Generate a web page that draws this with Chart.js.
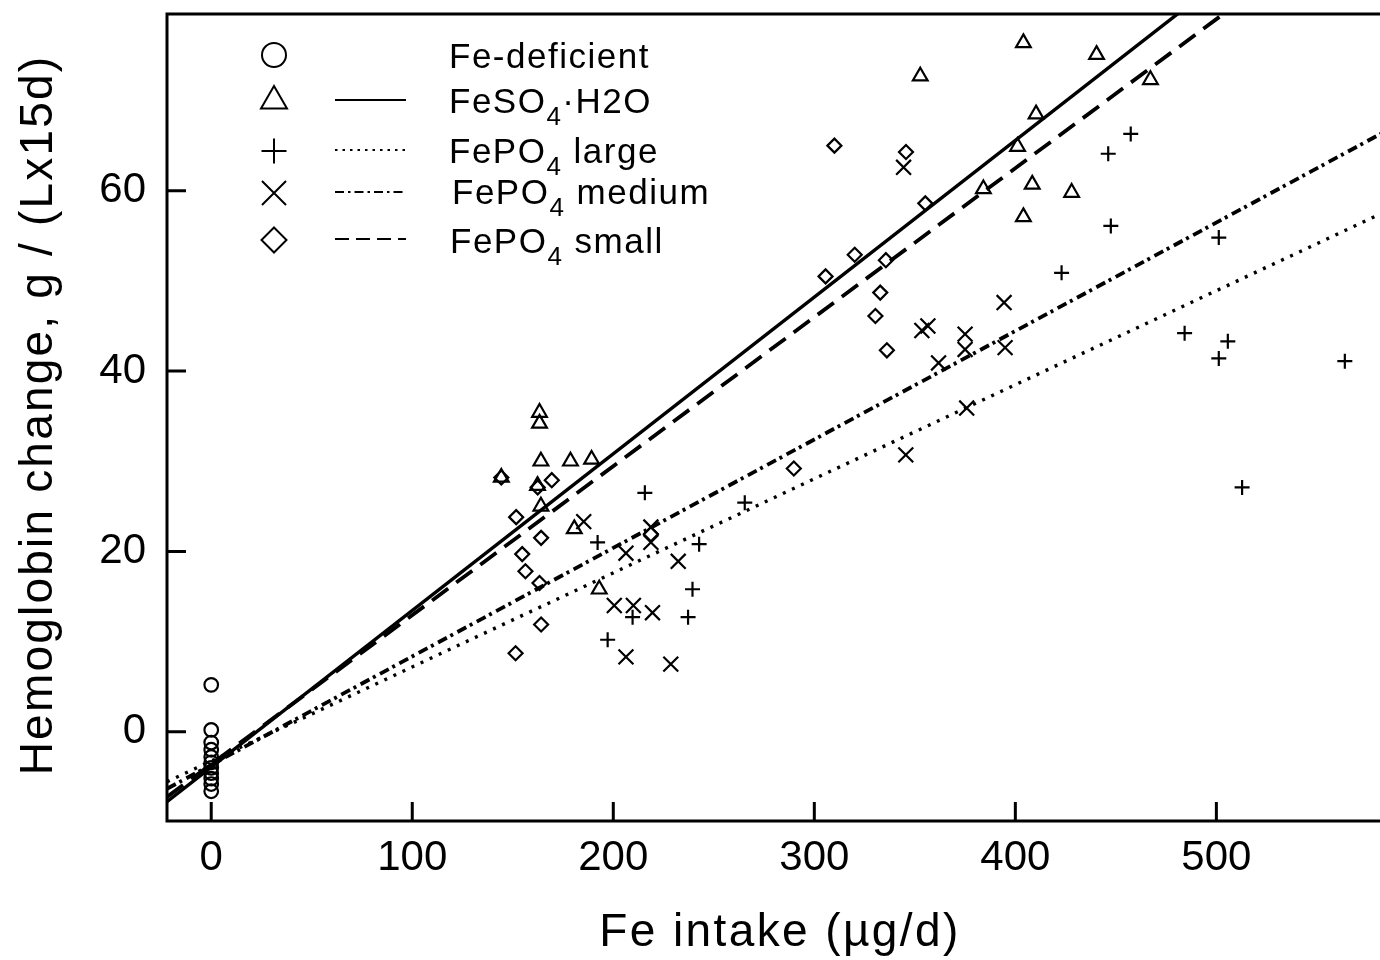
<!DOCTYPE html>
<html>
<head>
<meta charset="utf-8">
<title>Hemoglobin change vs Fe intake</title>
<script src="https://cdn.jsdelivr.net/npm/chart.js"></script>
<style>
  html, body { margin: 0; padding: 0; background: #fff; overflow: hidden; }
  #wrap { width: 1410px; height: 960px; }
</style>
</head>
<body>
<div id="wrap"><canvas id="hbChart" width="1410" height="960"></canvas></div>
<script>
const FONT = '"Liberation Sans", Arial, Helvetica, sans-serif';

// tick values on the axes
const xTicks = [0, 100, 200, 300, 400, 500];
const yTicks = [0, 20, 40, 60];

// Fe-deficient (circles)
const deficientX = [0, 0, 0, 0, 0, 0, 0, 0, 0, 0, 0];
const deficientY = [5.2, 0.2, -1.2, -2.0, -2.8, -3.4, -4.0, -4.6, -5.2, -5.8, -6.6];

// FeSO4·H2O (triangles)
const sulfateX = [163.3, 163.3, 164, 178.7, 189.2, 144.3, 162.3, 164, 180.6, 193,
                  352.7, 404, 440.4, 467.2, 410.3, 401.1, 384.1, 408.4, 428, 404];
const sulfateY = [35.4, 34.2, 30.0, 30.0, 30.2, 28.2, 27.3, 25.0, 22.5, 15.8,
                  72.7, 76.4, 75.1, 72.3, 68.5, 64.9, 60.2, 60.7, 59.8, 57.1];

// FePO4 large (plus)
const largeX = [215.7, 265.4, 192.2, 242.7, 239.4, 237.2, 209.6, 197.2, 457.4,
                446.2, 447.5, 423, 501.2, 484.2, 505.7, 501.2, 563.9, 512.8];
const largeY = [26.5, 25.4, 21.0, 20.8, 15.8, 12.7, 12.7, 10.2, 66.3,
                64.1, 56.1, 50.9, 54.8, 44.2, 43.3, 41.4, 41.1, 27.1];

// FePO4 medium (x)
const mediumX = [185.3, 218.7, 218.7, 206.3, 232.3, 200.5, 210, 219.5, 206.3, 228.6,
                 345.5, 344.4, 394.4, 353.5, 356.5, 375, 375, 394.9, 361.8, 375.8];
const mediumY = [23.3, 22.7, 21.0, 19.8, 18.9, 14.0, 14.0, 13.2, 8.3, 7.5,
                 30.7, 62.6, 47.6, 44.5, 45.0, 44.1, 42.4, 42.6, 40.9, 35.9];

// FePO4 small (diamonds)
const smallX = [144.3, 169.4, 162.4, 151.7, 164.1, 154.7, 156.3, 163.3, 164.1, 151.4, 218.7,
                289.8, 310, 345.6, 355.2, 320.1, 305.6, 335.6, 332.8, 330.4, 336.1];
const smallY = [28.2, 27.9, 27.1, 23.8, 21.5, 19.7, 17.8, 16.5, 11.9, 8.7, 21.9,
                29.2, 65.0, 64.3, 58.6, 52.9, 50.5, 52.3, 48.7, 46.1, 42.3];

// fitted lines, read at both ends of the x range
const fitX = [-22, 590];
const fitSulfate = [-7.75, 98.6];
const fitLarge = [-5.54, 58.3];
const fitMedium = [-6.32, 67.3];
const fitSmall = [-7.23, 93.9];

const legendLabels = ['Fe-deficient', 'FeSO4·H2O', 'FePO4 large', 'FePO4 medium', 'FePO4 small'];

function pts(xs, ys) {
    return xs.map((x, i) => ({ x: x, y: ys[i] }));
}

function pointSet(label, xs, ys, style, radius) {
    return {
        label: label,
        data: pts(xs, ys),
        pointStyle: style,
        pointRadius: radius,
        pointBorderWidth: 2.2,
        pointBorderColor: '#000',
        pointBackgroundColor: 'rgba(0,0,0,0)',
        showLine: false
    };
}

function lineSet(label, ys, dash, width) {
    return {
        label: label,
        data: pts(fitX, ys),
        showLine: true,
        pointRadius: 0,
        borderColor: '#000',
        borderWidth: width,
        borderDash: dash,
        fill: false,
        clip: 0
    };
}

// marker shapes for the legend
function marker(ctx, style, x, y, r) {
    ctx.beginPath();
    if (style === 'circle') {
        ctx.arc(x, y, r, 0, Math.PI * 2);
    } else if (style === 'triangle') {
        ctx.moveTo(x, y - r);
        ctx.lineTo(x + r * 0.866, y + r * 0.5);
        ctx.lineTo(x - r * 0.866, y + r * 0.5);
        ctx.closePath();
    } else if (style === 'cross') {
        ctx.moveTo(x - r, y); ctx.lineTo(x + r, y);
        ctx.moveTo(x, y - r); ctx.lineTo(x, y + r);
    } else if (style === 'crossRot') {
        const d = r * 0.7071;
        ctx.moveTo(x - d, y - d); ctx.lineTo(x + d, y + d);
        ctx.moveTo(x - d, y + d); ctx.lineTo(x + d, y - d);
    } else if (style === 'rectRot') {
        ctx.moveTo(x, y - r); ctx.lineTo(x + r, y);
        ctx.lineTo(x, y + r); ctx.lineTo(x - r, y);
        ctx.closePath();
    }
    ctx.stroke();
}

// text with subscript "4" after "O"
function chemText(ctx, text, x, y, size) {
    let cx = x;
    for (let i = 0; i < text.length; i++) {
        const ch = text[i];
        if (ch === '4' && text[i - 1] === 'O') {
            ctx.font = Math.round(size * 0.74) + 'px ' + FONT;
            ctx.fillText(ch, cx, y + 12);
            cx += ctx.measureText(ch).width;
        } else {
            ctx.font = size + 'px ' + FONT;
            ctx.fillText(ch, cx, y);
            cx += ctx.measureText(ch).width;
        }
    }
}

const framePlugin = {
    id: 'frame',
    afterDraw(chart) {
        const ctx = chart.ctx;
        const a = chart.chartArea;
        const xs = chart.scales.x, ys = chart.scales.y;
        ctx.save();
        ctx.strokeStyle = '#000';
        ctx.fillStyle = '#000';
        ctx.setLineDash([]);
        ctx.lineWidth = 3;
        ctx.strokeRect(a.left, a.top, a.right - a.left, a.bottom - a.top);

        // inward ticks
        ctx.beginPath();
        xTicks.forEach(v => {
            const px = xs.getPixelForValue(v);
            ctx.moveTo(px, a.bottom); ctx.lineTo(px, a.bottom - 19);
        });
        yTicks.forEach(v => {
            const py = ys.getPixelForValue(v);
            ctx.moveTo(a.left, py); ctx.lineTo(a.left + 19, py);
        });
        ctx.stroke();

        // axis titles
        ctx.textBaseline = 'alphabetic';
        ctx.textAlign = 'center';
        ctx.letterSpacing = '2.4px';
        ctx.font = '46px ' + FONT;
        ctx.fillText('Fe intake (µg/d)', 780, 946);
        ctx.save();
        ctx.translate(52, 415);
        ctx.rotate(-Math.PI / 2);
        ctx.letterSpacing = '2.2px';
        ctx.fillText('Hemoglobin change, g / (Lx15d)', 0, 0);
        ctx.restore();

        // legend
        const rowY = [55, 101, 151, 193, 240];
        const styles = ['circle', 'triangle', 'cross', 'crossRot', 'rectRot'];
        const radii = [12, 15, 12.5, 17, 12.5];
        const dashes = [null, [], [2.5, 5], [9, 4, 2.5, 4], [14, 7]];
        const textX = [449, 449, 449, 452, 450];
        const baseY = [68, 113, 163, 204, 253];
        ctx.textAlign = 'left';
        ctx.letterSpacing = '1.5px';
        for (let i = 0; i < legendLabels.length; i++) {
            ctx.lineWidth = 2;
            ctx.setLineDash([]);
            marker(ctx, styles[i], 274, rowY[i], radii[i]);
            if (dashes[i]) {
                ctx.setLineDash(dashes[i]);
                ctx.beginPath();
                ctx.moveTo(335, rowY[i] - 1);
                ctx.lineTo(406, rowY[i] - 1);
                ctx.stroke();
            }
            chemText(ctx, legendLabels[i], textX[i], baseY[i], 35);
        }
        ctx.restore();
    }
};

const ctx = document.getElementById('hbChart').getContext('2d');
const hbChart = new Chart(ctx, {
    type: 'scatter',
    data: {
        datasets: [
            pointSet(legendLabels[0], deficientX, deficientY, 'circle', 6.8),
            pointSet(legendLabels[1], sulfateX, sulfateY, 'triangle', 8.5),
            pointSet(legendLabels[2], largeX, largeY, 'cross', 7.5),
            pointSet(legendLabels[3], mediumX, mediumY, 'crossRot', 10.5),
            pointSet(legendLabels[4], smallX, smallY, 'rectRot', 7),
            lineSet(legendLabels[1] + ' fit', fitSulfate, [], 3.4),
            lineSet(legendLabels[2] + ' fit', fitLarge, [3, 7], 3.4),
            lineSet(legendLabels[3] + ' fit', fitMedium, [10, 4, 3, 5], 3.8),
            lineSet(legendLabels[4] + ' fit', fitSmall, [20, 10], 3.8)
        ]
    },
    options: {
        responsive: false,
        animation: false,
        devicePixelRatio: 1,
        layout: { padding: { top: 14, right: 11, left: 0, bottom: 0 } },
        plugins: {
            legend: { display: false },
            tooltip: { enabled: false }
        },
        scales: {
            x: {
                type: 'linear',
                min: -22,
                max: 590,
                afterBuildTicks: s => { s.ticks = xTicks.map(v => ({ value: v })); },
                afterFit: s => { s.height = 139; s.paddingLeft = 0; s.paddingRight = 0; },
                grid: { display: false, drawTicks: false },
                border: { display: false },
                ticks: { color: '#000', font: { family: FONT, size: 42 }, padding: 12, maxRotation: 0, autoSkip: false }
            },
            y: {
                type: 'linear',
                min: -9.9,
                max: 79.6,
                afterBuildTicks: s => { s.ticks = yTicks.map(v => ({ value: v })); },
                afterFit: s => { s.width = 167; s.paddingTop = 0; s.paddingBottom = 0; },
                grid: { display: false, drawTicks: false },
                border: { display: false },
                ticks: { color: '#000', font: { family: FONT, size: 42 }, padding: 21 }
            }
        }
    },
    plugins: [framePlugin]
});
</script>
</body>
</html>
